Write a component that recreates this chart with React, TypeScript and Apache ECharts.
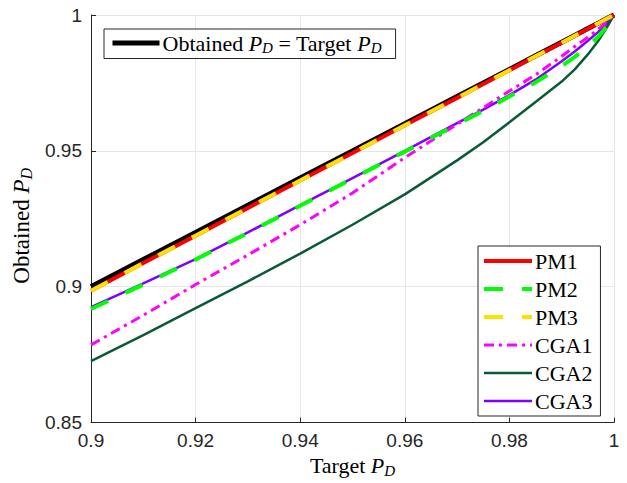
import React, { useEffect, useRef } from "react";
import * as echarts from "echarts";

// Target detection probability (x) and the obtained probability for each method (y)
const targetPd = [0.9, 0.91, 0.92, 0.93, 0.94, 0.95, 0.96, 0.97, 0.975, 0.98, 0.985, 0.99, 0.9925, 0.995, 0.997, 0.9985, 1];
const idealPd = [0.9, 0.91, 0.92, 0.93, 0.94, 0.95, 0.96, 0.97, 0.975, 0.98, 0.985, 0.99, 0.9925, 0.995, 0.997, 0.9985, 1];
const pm1 = [0.8985, 0.9087, 0.9188, 0.929, 0.9391, 0.9492, 0.9594, 0.9695, 0.9746, 0.9797, 0.9848, 0.9898, 0.9924, 0.9949, 0.997, 0.9985, 1];
const pm2 = [0.8918, 0.9008, 0.91, 0.9198, 0.9298, 0.9398, 0.9497, 0.9597, 0.9647, 0.97, 0.9752, 0.9812, 0.9846, 0.9885, 0.992, 0.9955, 1];
const pm3 = [0.8985, 0.9087, 0.9188, 0.929, 0.9391, 0.9492, 0.9594, 0.9695, 0.9746, 0.9797, 0.9848, 0.9898, 0.9924, 0.9949, 0.997, 0.9985, 1];
const cga1 = [0.8786, 0.8895, 0.9008, 0.9117, 0.9228, 0.9345, 0.9475, 0.9598, 0.9659, 0.972, 0.978, 0.9848, 0.9884, 0.9918, 0.9948, 0.9972, 1];
const cga2 = [0.8726, 0.8822, 0.8921, 0.902, 0.9122, 0.9228, 0.934, 0.9465, 0.9532, 0.9605, 0.968, 0.9755, 0.98, 0.9855, 0.9905, 0.995, 1];
const cga3 = [0.8925, 0.9012, 0.9102, 0.92, 0.93, 0.94, 0.95, 0.9602, 0.9652, 0.9705, 0.9762, 0.983, 0.9866, 0.9905, 0.9938, 0.9966, 1];

const xTicks = { min: 0.9, max: 1, interval: 0.02 };
const yTicks = { min: 0.85, max: 1, interval: 0.05 };

const IDEAL = "Obtained P_D = Target P_D";
const methodNames = ["PM1", "PM2", "PM3", "CGA1", "CGA2", "CGA3"];

const SERIF = "'Liberation Serif', 'Times New Roman', serif";
const SANS = "'Liberation Sans', Arial, sans-serif";
const INK = "#262626";

const pair = (ys: number[]) => targetPd.map((x, i) => [x, ys[i]]);

const makeRich = (size: number) => ({
  n: { fontFamily: SERIF, fontSize: size, color: "#000" },
  i: { fontFamily: SERIF, fontSize: size, fontStyle: "italic", color: "#000" },
  s: {
    fontFamily: SERIF,
    fontSize: Math.round(size * 0.7),
    fontStyle: "italic",
    color: "#000",
    padding: [Math.round(size * 0.45), 0, 0, 0],
  },
});

export default function App() {
  const ref = useRef<HTMLDivElement>(null);

  useEffect(() => {
    if (!ref.current) return;
    const chart = echarts.init(ref.current, undefined, { renderer: "svg" });

    const line = (
      name: string,
      data: number[],
      color: string,
      width: number,
      type: any,
      z: number
    ) => ({
      name,
      type: "line",
      data: pair(data),
      showSymbol: false,
      symbol: "none",
      z,
      lineStyle: { color, width, type, cap: "butt" },
      itemStyle: { color },
    });

    const tickLabel = {
      color: INK,
      fontFamily: SANS,
      fontSize: 19,
      formatter: (v: number) => String(+v.toFixed(2)),
    };

    const legendBox = {
      backgroundColor: "#fff",
      borderColor: INK,
      borderWidth: 1,
      borderRadius: 0,
      itemStyle: { opacity: 0, borderWidth: 0 },
      lineStyle: { width: "inherit", type: "inherit" },
    };

    chart.setOption({
      animation: false,
      grid: { left: 91, right: 13, top: 15, bottom: 58 },
      xAxis: {
        type: "value",
        ...xTicks,
        name: "{n|Target }{i|P}{s|D}",
        nameLocation: "middle",
        nameGap: 28,
        nameTextStyle: { rich: makeRich(22) },
        axisLine: { show: true, lineStyle: { color: INK, width: 1 } },
        axisTick: { show: true, inside: true, length: 5, lineStyle: { color: INK } },
        axisLabel: { ...tickLabel, margin: 8 },
        splitLine: { show: true, lineStyle: { color: "#e6e6e6", width: 1 } },
      },
      yAxis: {
        type: "value",
        ...yTicks,
        name: "{n|Obtained }{i|P}{s|D}",
        nameLocation: "middle",
        nameGap: 52,
        nameRotate: 90,
        nameTextStyle: { rich: makeRich(23), padding: [0, 14, 0, 0] },
        axisLine: { show: true, lineStyle: { color: INK, width: 1 } },
        axisTick: { show: true, inside: true, length: 5, lineStyle: { color: INK } },
        axisLabel: { ...tickLabel, margin: 9 },
        splitLine: { show: true, lineStyle: { color: "#e6e6e6", width: 1 } },
      },
      legend: [
        {
          ...legendBox,
          data: [IDEAL],
          left: 104,
          top: 29,
          orient: "horizontal",
          itemWidth: 47,
          itemHeight: 20,
          padding: [3, 14, 3, 6],
          formatter: () => "{n|Obtained }{i|P}{s|D}{n| = Target }{i|P}{s|D}",
          textStyle: { rich: makeRich(22), padding: [0, 0, 0, -2] },
        },
        {
          ...legendBox,
          data: methodNames,
          left: 478,
          top: 246,
          orient: "vertical",
          itemWidth: 48,
          itemHeight: 20,
          itemGap: 6,
          padding: [4, 8, 4, 4],
          textStyle: { fontFamily: SERIF, fontSize: 22, color: "#000", padding: [0, 0, 0, -2] },
        },
      ],
      series: [
        line(IDEAL, idealPd, "#000000", 5, "solid", 1),
        line("CGA3", cga3, "#7f00ff", 2.5, "solid", 2),
        line("CGA2", cga2, "#0b5a36", 2.5, "solid", 2),
        line("CGA1", cga1, "#ff00ff", 3, [10, 5, 3, 5], 3),
        line("PM2", pm2, "#00ff00", 4, [19, 19], 4),
        line("PM1", pm1, "#ff0000", 4, "solid", 5),
        line("PM3", pm3, "#ffe000", 4, [19, 19], 6),
      ],
    });

    return () => chart.dispose();
  }, []);

  return (
    <div
      ref={ref}
      style={{ position: "fixed", left: 0, top: 0, width: 627, height: 483, background: "#fff" }}
    />
  );
}
